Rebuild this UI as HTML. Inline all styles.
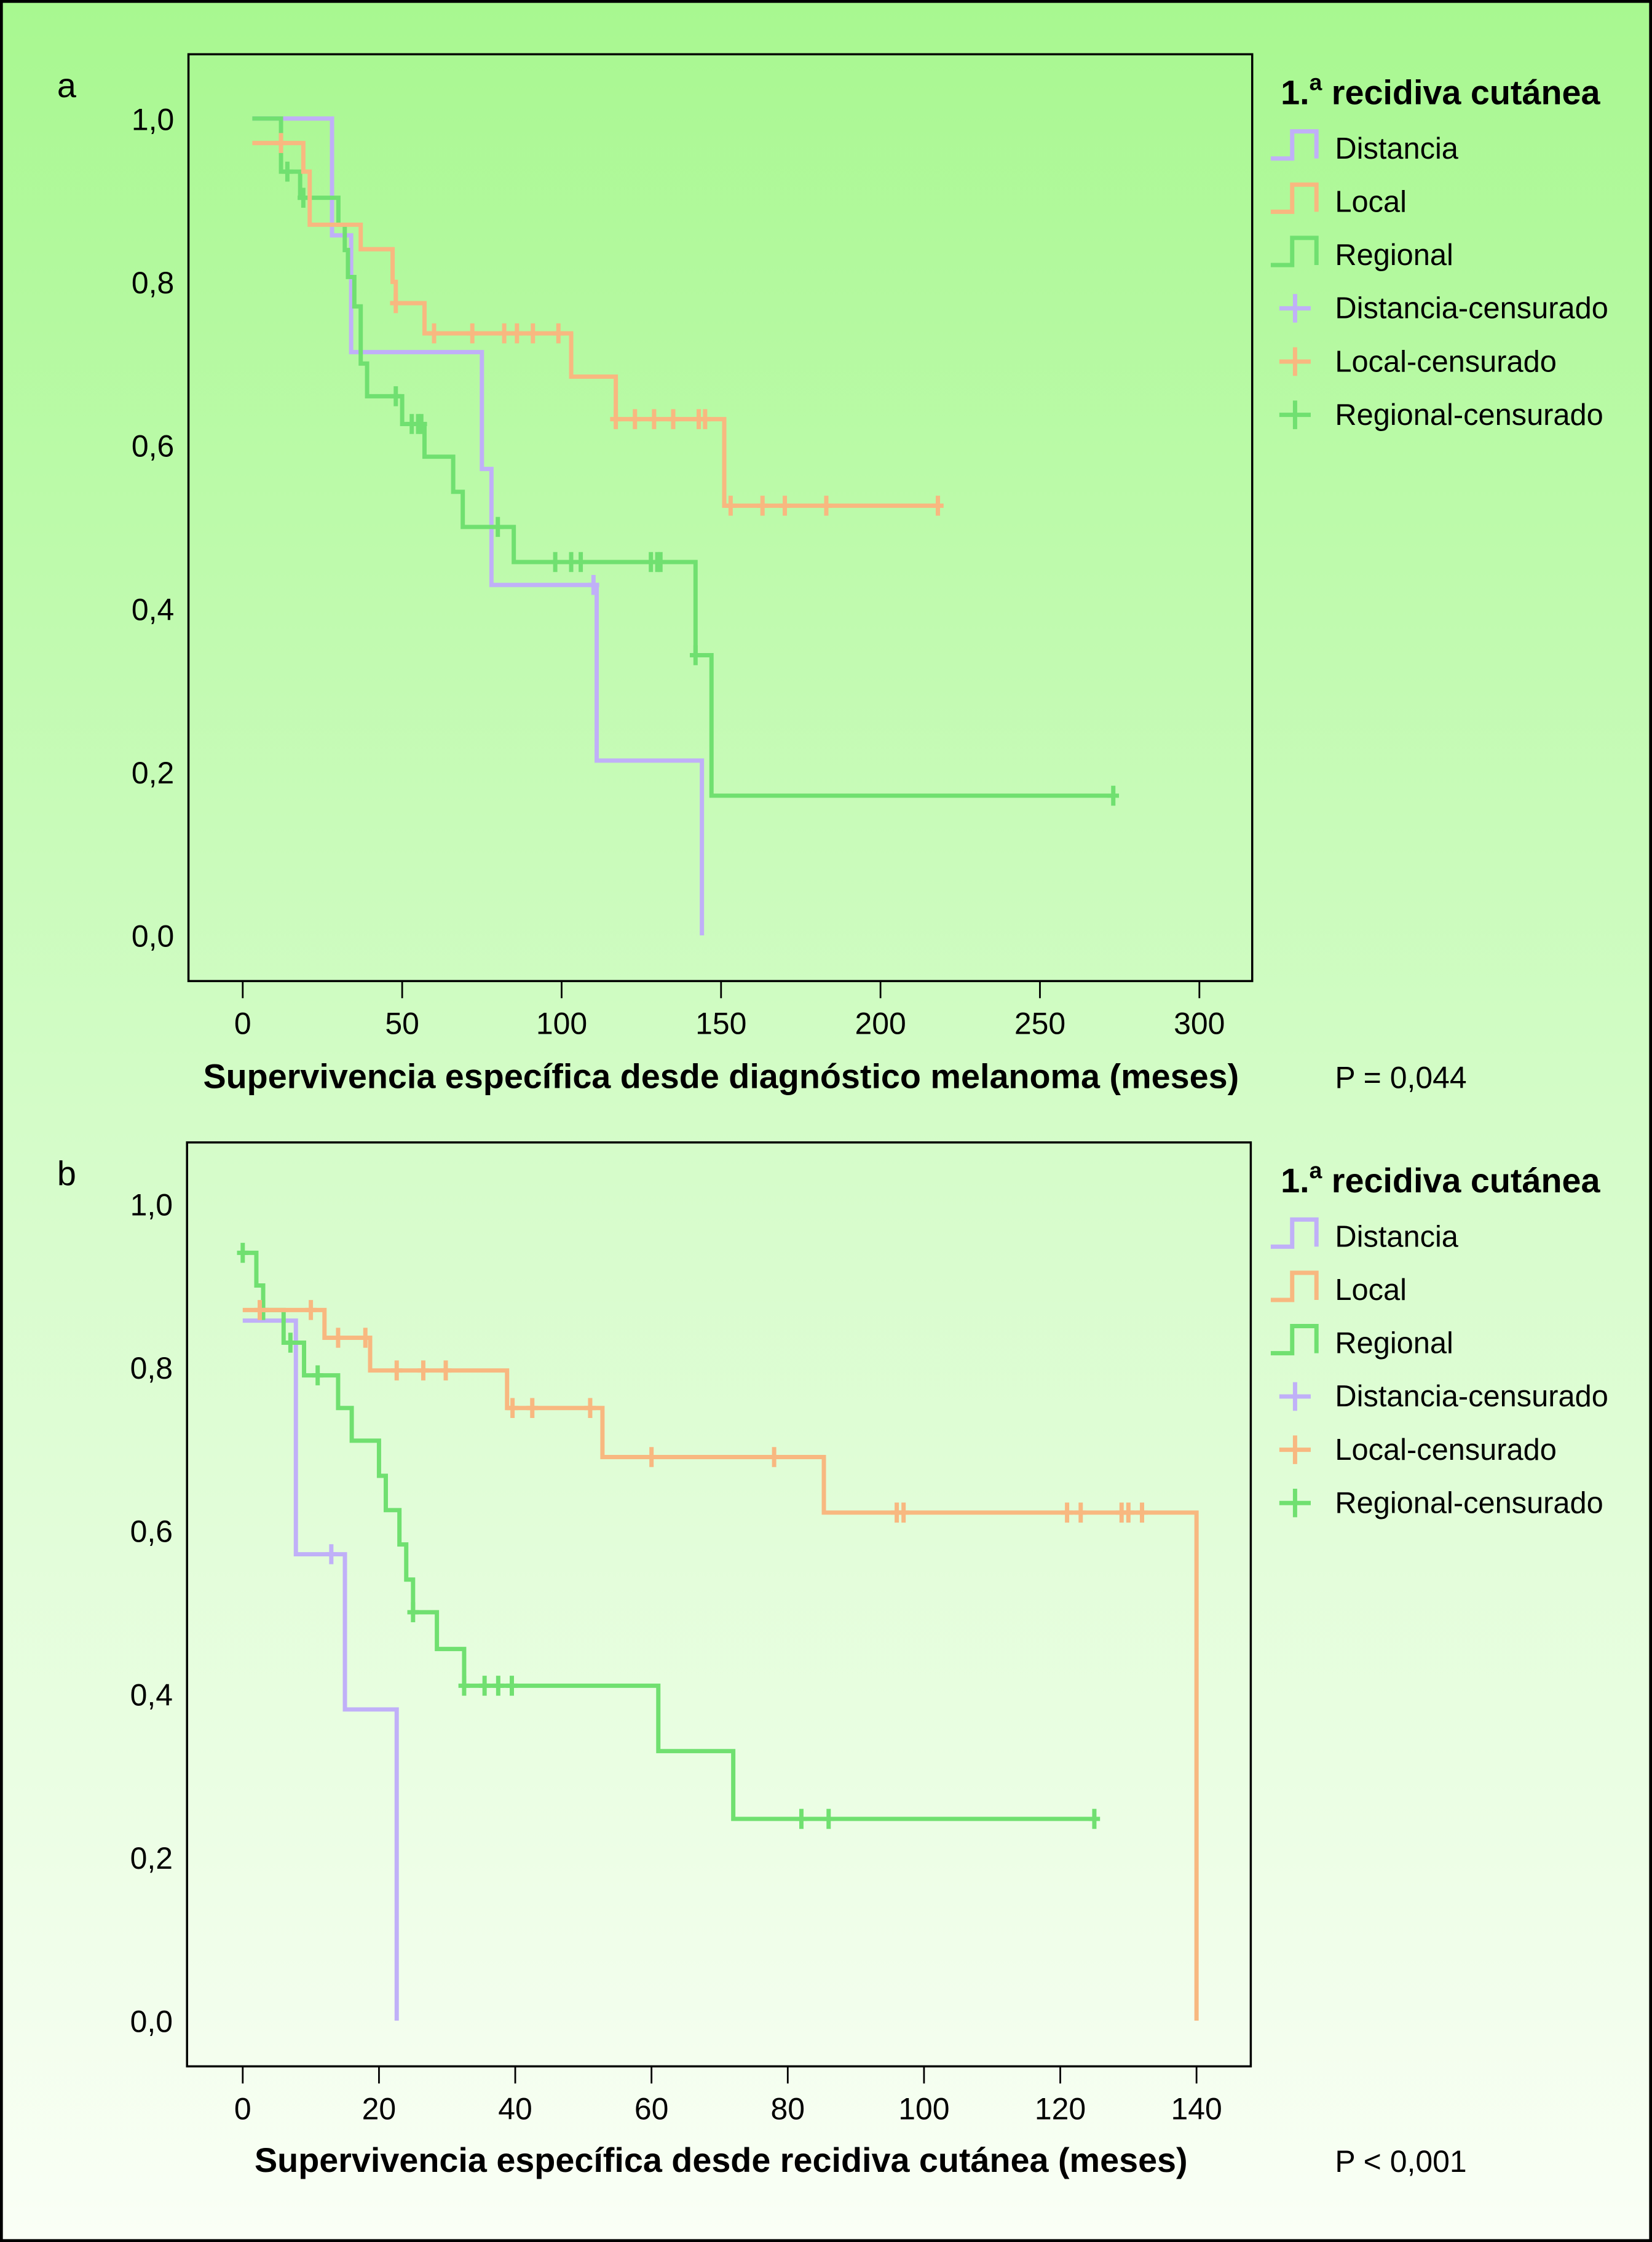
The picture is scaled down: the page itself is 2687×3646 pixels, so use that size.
<!DOCTYPE html>
<html><head><meta charset="utf-8"><style>
html,body{margin:0;padding:0;background:#fff}
svg{display:block}
text{font-family:"Liberation Sans",Arial,sans-serif;fill:#000}
</style></head><body>
<svg id="s" width="2687" height="3646" viewBox="0 0 1157 1570" preserveAspectRatio="none" xmlns="http://www.w3.org/2000/svg">
<defs><linearGradient id="bg" x1="0" y1="0" x2="0" y2="1"><stop offset="0" stop-color="#a8f890"/><stop offset="0.5" stop-color="#d4fcc8"/><stop offset="1" stop-color="#fafff6"/></linearGradient></defs>
<rect x="1" y="1" width="1155" height="1568" fill="url(#bg)" stroke="#000" stroke-width="2"/>
<g id="g"></g>
</svg>
<script>
// Panel a data
const aTicksX=[0,50,100,150,200,250,300];
const aTicksY=[0,0.2,0.4,0.6,0.8,1.0];
const aDistT=[3,28,34,75,78,111,144];
const aDistS=[1,0.857,0.714,0.571,0.429,0.214,0];
const aDistC=[110];
const aLocT=[3,19,21,37,47,48,57,103,117,151];
const aLocS=[0.97,0.935,0.87,0.84,0.80,0.774,0.737,0.684,0.632,0.526];
const aLocEnd=218;
const aLocC=[12,48,60,72,82,86,91,99,117,123,129,135,143,145,153,163,170,183,218];
const aRegT=[3,12,18,30,32,33,35,37,39,50,57,66,69,85,142,147];
const aRegS=[1,0.935,0.903,0.87,0.839,0.806,0.77,0.70,0.66,0.626,0.586,0.543,0.5,0.457,0.343,0.171];
const aRegEnd=273;
const aRegC=[14,19,48,53,55,56,80,98,103,106,128,130,131,142,273];
// Panel b data
const bTicksX=[0,20,40,60,80,100,120,140];
const bDistT=[0,7.8,15,22.6];
const bDistS=[0.857,0.571,0.381,0];
const bDistC=[13];
const bLocT=[0,12,18.7,38.8,52.8,85.3,140];
const bLocS=[0.87,0.836,0.796,0.75,0.69,0.622,0];
const bLocC=[2.5,10,14,18,22.6,26.5,29.8,39.6,42.5,51,60,78,96,97,121,123,129,130,132];
const bRegT=[0,2,3,6,9,14,16,20,21,23,24,25,28.5,32.5,61,72];
const bRegS=[0.94,0.90,0.87,0.83,0.79,0.75,0.71,0.667,0.625,0.583,0.54,0.5,0.455,0.41,0.33,0.247];
const bRegEnd=125;
const bRegC=[0,3,7,11,25,32.5,35.5,37.5,39.5,82,86,125];

const NS="http://www.w3.org/2000/svg";
const G=document.getElementById('g');
const COL={d:'#c0b0f8',l:'#f8b880',r:'#70e070'};
function el(t,a,p){const e=document.createElementNS(NS,t);for(const k in a)e.setAttribute(k,a[k]);(p||G).appendChild(e);return e;}
function txt(s,x,y,sz,anchor,bold,p){const e=el('text',{x:x,y:y,'font-size':sz,'text-anchor':anchor||'start','font-weight':bold?'bold':'normal'},p);e.textContent=s;return e;}

function panel(cfg){
  const grp=el('g',{});
  
  
  const X=v=>cfg.x0+(v-cfg.xmin)*(cfg.x1-cfg.x0)/(cfg.xmax-cfg.xmin);
  const Y=v=>cfg.y0+(1-v)*(cfg.yb-cfg.y0);
  const fr=el('rect',{x:cfg.fx,y:cfg.fy,width:cfg.fw,height:cfg.fh,fill:'none',stroke:'#000','stroke-width':1.5},grp);
  
  
  cfg.ticksX.forEach(v=>{const t=txt(String(v),X(v),cfg.fy+cfg.fh+37,21.5,'middle',false,grp);
    
    const tk=el('line',{x1:X(v),x2:X(v),y1:cfg.fy+cfg.fh,y2:cfg.fy+cfg.fh+12,stroke:'#000','stroke-width':1.2},grp);
    });
  aTicksY.forEach(v=>{const t=txt(v.toFixed(1).replace('.',','),cfg.fx-10,Y(v)+8,21.5,'end',false,grp);
    });
  const xt=txt(cfg.xtitle,cfg.titleX,cfg.titleY,24,'middle',true,grp);
  
  const pv=txt(cfg.p,935,cfg.titleY,21.5,'start',false,grp);
  
  const lt=txt(cfg.letter,40,cfg.fy+30,24,'start',false,grp);
  
  cfg.series.forEach(s=>{
    let d='M'+X(s.t[0])+' '+Y(s.s[0]);
    for(let i=1;i<s.t.length;i++){d+=' H'+X(s.t[i])+' V'+Y(s.s[i]);}
    if(s.end!==undefined)d+=' H'+X(s.end);
    const p=el('path',{d:d,fill:'none',stroke:s.c,'stroke-width':3},grp);
    
    
    s.cens.forEach(ct=>{
      let sv=s.s[0];for(let i=0;i<s.t.length;i++){if(s.t[i]<=ct)sv=s.s[i];}
      const m=el('path',{d:'M'+(X(ct)-4)+' '+Y(sv)+' h8 M'+X(ct)+' '+(Y(sv)-7)+' v14',stroke:s.c,'stroke-width':3},grp);
      
      
    });
  });
  const ly=cfg.fy;
  const lh=txt('1.',897,ly+35,24,'start',true,grp);
  lh.innerHTML='1.<tspan dy="-10" font-size="16">a</tspan><tspan dy="10"> recidiva cutánea</tspan>';
  
  const items=[['Distancia',COL.d,0],['Local',COL.l,0],['Regional',COL.r,0],['Distancia-censurado',COL.d,1],['Local-censurado',COL.l,1],['Regional-censurado',COL.r,1]];
  items.forEach((it,i)=>{
    const yy=ly+66+i*37.3;
    const ent=el('g',{},grp);
    
    
    if(!it[2]) el('path',{d:`M890 ${yy+7} h15 v-19 h17 v19`,fill:'none',stroke:it[1],'stroke-width':3},ent);
    else el('path',{d:`M896 ${yy} h22 M907 ${yy-10} v20`,fill:'none',stroke:it[1],'stroke-width':3},ent);
    txt(it[0],935,yy+7,21,'start',false,ent);
  });
}
panel({name:'panel-a',letter:'a',fx:132,fy:38,fw:745,fh:649,x0:170,x1:840,xmin:0,xmax:300,y0:83,yb:655,
  ticksX:aTicksX,xtitle:'Supervivencia específica desde diagnóstico melanoma (meses)',titleX:505,titleY:762,p:'P = 0,044',
  series:[{n:'distancia',c:COL.d,t:aDistT,s:aDistS,cens:aDistC},
          {n:'regional',c:COL.r,t:aRegT,s:aRegS,end:aRegEnd,cens:aRegC},
          {n:'local',c:COL.l,t:aLocT,s:aLocS,end:aLocEnd,cens:aLocC}]});
panel({name:'panel-b',letter:'b',fx:131,fy:800,fw:745,fh:647,x0:170,x1:838,xmin:0,xmax:140,y0:843,yb:1415,
  ticksX:bTicksX,xtitle:'Supervivencia específica desde recidiva cutánea (meses)',titleX:505,titleY:1521,p:'P < 0,001',
  series:[{n:'distancia',c:COL.d,t:bDistT,s:bDistS,cens:bDistC},
          {n:'regional',c:COL.r,t:bRegT,s:bRegS,end:bRegEnd,cens:bRegC},
          {n:'local',c:COL.l,t:bLocT,s:bLocS,cens:bLocC}]});
</script>
</body></html>
